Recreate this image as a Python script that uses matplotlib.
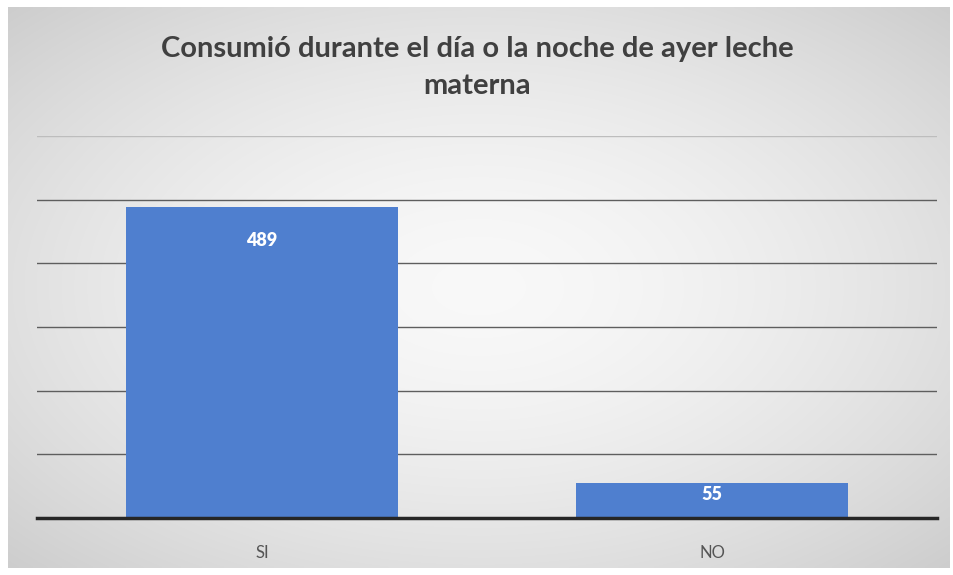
import numpy as np
import matplotlib
matplotlib.use("Agg")
import matplotlib.pyplot as plt

categories = ["SI", "NO"]
values = [489, 55]
title = "Consumió durante el día o la noche de ayer leche\nmaterna"
yticks = [0, 100, 200, 300, 400, 500, 600]

W, H = 954, 575
fig = plt.figure(figsize=(W / 100, H / 100), dpi=100)
fig.patch.set_facecolor("white")

# gradient background panel
bg = fig.add_axes([8 / W, 1 - 568 / H, 942 / W, 561 / H])
bg.set_axis_off()
ny, nx = 200, 330
yy, xx = np.mgrid[-1:1:ny * 1j, -1:1:nx * 1j]
r = np.sqrt(xx ** 2 + yy ** 2) / np.sqrt(2)
g = 0.975 - 0.17 * r ** 1.6
img = np.dstack([g, g, g])
bg.imshow(img, aspect="auto", extent=[0, 1, 0, 1], interpolation="bilinear")
bg.set_xlim(0, 1)
bg.set_ylim(0, 1)

ax = fig.add_axes([37 / W, 57 / H, 900 / W, 382 / H])
ax.patch.set_alpha(0)
x = np.arange(len(categories))
bars = ax.bar(x, values, width=0.605, color="#4f7fcf", zorder=3)
ax.set_xlim(-0.5, 1.5)
ax.set_ylim(0, 600)
ax.set_yticks(yticks)
ax.yaxis.grid(True, color="#5e5e5e", linewidth=1.0, zorder=0)
gl = ax.get_ygridlines()
gl[-1].set_color("#bdbdbd")
ax.tick_params(axis="y", left=False, labelleft=False)
ax.tick_params(axis="x", bottom=False, labelsize=12, labelcolor="#555555", pad=16)
ax.set_xticks(x)
ax.set_xticklabels(categories, fontfamily="Lato")
for s in ["top", "right", "left"]:
    ax.spines[s].set_visible(False)
ax.spines["bottom"].set_linewidth(2.5)
ax.spines["bottom"].set_color("#262626")
ax.spines["bottom"].set_zorder(4)

for xi, v in zip(x, values):
    ax.annotate(str(v), (xi, v), xytext=(0, -24 if v > 100 else -8), textcoords="offset points",
                ha="center", va="center", color="white", fontsize=13, fontweight="heavy",
                fontfamily="Lato", zorder=5)

fig.text(0.5, 1 - 67.5 / H, title, ha="center", va="center", fontsize=21, fontweight="bold",
         color="#404040", fontfamily="Lato", linespacing=1.5)

fig.savefig("out.png", dpi=100)
